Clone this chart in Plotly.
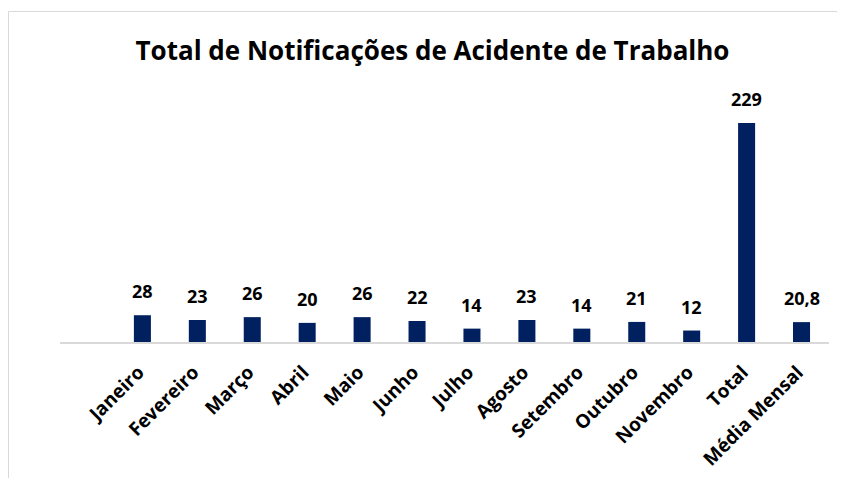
import plotly.graph_objects as go

categories = ["Janeiro", "Fevereiro", "Março", "Abril", "Maio", "Junho", "Julho",
              "Agosto", "Setembro", "Outubro", "Novembro", "Total", "Média Mensal"]
values = [28, 23, 26, 20, 26, 22, 14, 23, 14, 21, 12, 229, 20.8]
value_labels = ["28", "23", "26", "20", "26", "22", "14", "23", "14", "21", "12", "229", "20,8"]
title_text = "Total de Notificações de Acidente de Trabalho"

# page has an 8px body margin; figure coordinates = page coordinates - 8
W, H = 837, 470
ML, MR, MT, MB = 52, 16, 95, 136
PW, PH = W - ML - MR, H - MT - MB
FONT = "Open Sans, Liberation Sans, Arial, sans-serif"
BAR = "#002060"
BORDER = "#d9d9d9"
LABEL_NUDGE = -0.07  # rotated tick labels sit slightly left of the bar centre

def px_x(p):
    return (p - ML) / PW

def px_y(p):
    return (H - MB - p) / PH

xpos = list(range(len(categories)))

fig = go.Figure()
fig.add_trace(go.Bar(
    x=xpos, y=values, marker=dict(color=BAR, line=dict(width=0)),
    width=0.31, hoverinfo="skip",
))

for xi, v, t in zip(xpos, values, value_labels):
    fig.add_annotation(x=xi, y=v, text=f"<b>{t}</b>", showarrow=False,
                       yanchor="bottom", yshift=10,
                       font=dict(family=FONT, size=18, color="#000000"))

# chart-area border: top edge and left edge drawn as a polyline path
fig.add_shape(type="path", xref="paper", yref="paper",
              path=(f"M {px_x(0.5)},{px_y(H)} L {px_x(0.5)},{px_y(3.5)} "
                    f"L {px_x(W)},{px_y(3.5)}"),
              line=dict(color=BORDER, width=1), fillcolor="rgba(0,0,0,0)")

fig.update_layout(
    width=W, height=H,
    margin=dict(l=ML, r=MR, t=MT, b=MB, autoexpand=False),
    paper_bgcolor="#ffffff", plot_bgcolor="#ffffff",
    showlegend=False,
    title=dict(text=f"<b>{title_text}</b>", x=424.5 / W, xanchor="center",
               xref="container", yref="container", y=1 - 42.5 / H, yanchor="middle",
               font=dict(family=FONT, size=26, color="#000000")),
    xaxis=dict(range=[-1.5, 12.5], showgrid=False, zeroline=False,
               showline=True, linecolor=BORDER, linewidth=1.5,
               ticks="", tickangle=-45, ticklabelstandoff=10,
               tickfont=dict(family=FONT, size=19, color="#000000"),
               tickmode="array",
               tickvals=[xi + LABEL_NUDGE for xi in xpos],
               ticktext=[f"<b>{c}</b>" for c in categories]),
    yaxis=dict(range=[0, 250], visible=False, showgrid=False, zeroline=False),
)

fig.write_html("out.html")
